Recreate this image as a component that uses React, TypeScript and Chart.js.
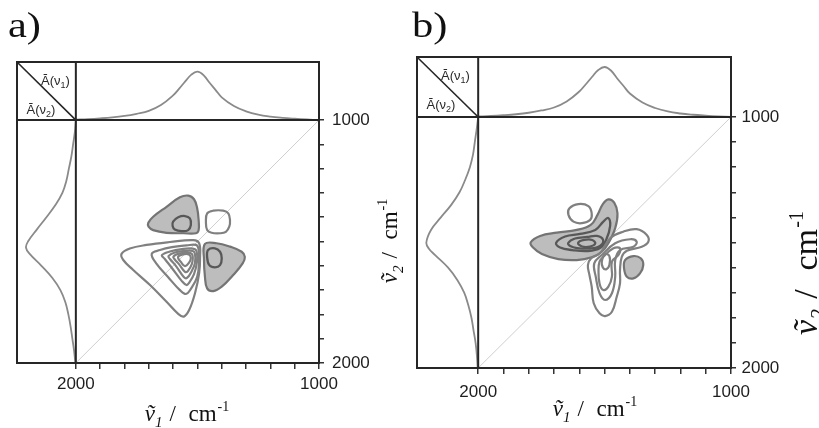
import React, { useEffect, useRef } from "react";
import { Chart, registerables } from "chart.js";

Chart.register(...registerables);

// ---------------- axes ----------------
const NU_TICKS = [2000, 1900, 1800, 1700, 1600, 1500, 1400, 1300, 1200, 1100, 1000];
const NU_LABELED = [2000, 1000];
const NU_LOW = 1000;
const NU_HIGH = 2000;
const NU1_STRIP_EDGE = 2242; // left edge of the left (ν2) spectrum strip, in ν1 units
const NU2_STRIP_EDGE = 761; // top edge of the top (ν1) spectrum strip, in ν2 units
const TOP_STRIP_ABS = 1.2; // absorbance value reached at the top edge of the top strip
const LEFT_STRIP_ABS = 1.18; // absorbance value reached at the left edge of the left strip

// ---------------- averaged spectra ----------------
const TOP_NU = [2000, 1950, 1900, 1850, 1800, 1750, 1700, 1650, 1600, 1575, 1550, 1525, 1500, 1475, 1450, 1425, 1400, 1350, 1300, 1250, 1200, 1150, 1100, 1050, 1000];
const TOP_ABS = [0.01, 0.02, 0.035, 0.055, 0.085, 0.13, 0.19, 0.31, 0.51, 0.65, 0.8, 0.94, 1.0, 0.93, 0.77, 0.62, 0.47, 0.29, 0.18, 0.11, 0.07, 0.045, 0.027, 0.012, 0.0];
const LEFT_NU = [1000, 1050, 1100, 1150, 1200, 1250, 1300, 1350, 1400, 1450, 1500, 1525, 1550, 1600, 1650, 1700, 1750, 1800, 1850, 1900, 1950, 2000];
const LEFT_ABS_A = [0.0, 0.02, 0.055, 0.09, 0.14, 0.19, 0.27, 0.41, 0.59, 0.78, 0.96, 1.0, 0.93, 0.69, 0.47, 0.31, 0.21, 0.15, 0.105, 0.07, 0.035, 0.01];
const LEFT_ABS_B = [0.0, 0.03, 0.065, 0.1, 0.16, 0.25, 0.36, 0.52, 0.72, 0.91, 1.0, 0.95, 0.83, 0.58, 0.4, 0.27, 0.19, 0.13, 0.09, 0.05, 0.025, 0.01];

// ---------------- contour lines, [ν1, ν2] ----------------
type Pt = [number, number];
// panel a
const A_NEG_1: Pt[] = [[1702, 1423], [1682, 1398], [1627, 1357], [1572, 1318], [1538, 1311], [1514, 1326], [1501, 1363], [1495, 1412], [1495, 1453], [1506, 1466], [1558, 1466], [1627, 1464], [1682, 1453], [1701, 1439]];
const A_NEG_1_IN: Pt[] = [[1600, 1418], [1579, 1400], [1551, 1395], [1531, 1405], [1527, 1432], [1538, 1453], [1565, 1457], [1593, 1450], [1602, 1436]];
const A_NEG_2: Pt[] = [[1469, 1510], [1421, 1507], [1366, 1521], [1318, 1542], [1305, 1563], [1314, 1590], [1353, 1638], [1400, 1686], [1435, 1704], [1460, 1693], [1469, 1645], [1473, 1576]];
const A_NEG_2_IN: Pt[] = [[1456, 1535], [1428, 1528], [1407, 1542], [1400, 1569], [1407, 1597], [1428, 1606], [1451, 1597], [1460, 1565]];
const A_POS_SMALL: Pt[] = [[1460, 1384], [1435, 1373], [1394, 1373], [1373, 1384], [1366, 1412], [1369, 1439], [1383, 1460], [1407, 1466], [1442, 1464], [1460, 1453], [1465, 1418]];
const A_POS_1: Pt[] = [[1812, 1551], [1778, 1529], [1709, 1514], [1613, 1502], [1517, 1494], [1493, 1507], [1489, 1563], [1493, 1631], [1510, 1713], [1534, 1782], [1556, 1809], [1579, 1798], [1627, 1748], [1695, 1679], [1764, 1617], [1805, 1576]];
const A_POS_2: Pt[] = [[1688, 1551], [1654, 1535], [1605, 1523], [1544, 1516], [1506, 1514], [1496, 1529], [1493, 1576], [1501, 1645], [1527, 1695], [1547, 1716], [1572, 1700], [1621, 1646], [1667, 1593]];
const A_POS_3: Pt[] = [[1646, 1556], [1613, 1541], [1564, 1531], [1519, 1529], [1504, 1539], [1502, 1584], [1514, 1634], [1535, 1671], [1545, 1679], [1564, 1663], [1605, 1609], [1634, 1572]];
const A_POS_4: Pt[] = [[1619, 1560], [1593, 1545], [1551, 1539], [1519, 1539], [1510, 1551], [1510, 1588], [1523, 1621], [1543, 1650], [1556, 1646], [1588, 1601], [1613, 1572]];
const A_POS_5: Pt[] = [[1599, 1562], [1572, 1549], [1543, 1547], [1523, 1551], [1519, 1568], [1523, 1593], [1539, 1621], [1551, 1625], [1576, 1593], [1593, 1574]];
const A_POS_6: Pt[] = [[1580, 1564], [1560, 1553], [1535, 1553], [1527, 1568], [1535, 1588], [1551, 1601], [1568, 1584]];
// panel b
const B_NEG_1: Pt[] = [[1792, 1499], [1755, 1474], [1689, 1461], [1610, 1450], [1555, 1430], [1528, 1390], [1507, 1347], [1485, 1328], [1462, 1341], [1449, 1384], [1458, 1443], [1485, 1503], [1511, 1537], [1551, 1559], [1610, 1570], [1683, 1566], [1748, 1546], [1784, 1519]];
const B_NEG_1_IN_1: Pt[] = [[1692, 1502], [1656, 1476], [1597, 1466], [1537, 1450], [1506, 1418], [1486, 1402], [1478, 1434], [1494, 1490], [1518, 1522], [1565, 1534], [1628, 1530], [1676, 1520]];
const B_NEG_1_IN_2: Pt[] = [[1644, 1502], [1617, 1484], [1569, 1478], [1530, 1474], [1506, 1490], [1518, 1514], [1557, 1524], [1609, 1522], [1636, 1514]];
const B_NEG_1_IN_3: Pt[] = [[1605, 1502], [1581, 1490], [1549, 1490], [1537, 1504], [1557, 1516], [1589, 1516]];
const B_NEG_2: Pt[] = [[1419, 1570], [1386, 1554], [1357, 1563], [1347, 1590], [1360, 1623], [1386, 1643], [1412, 1636], [1423, 1603]];
const B_POS_SMALL: Pt[] = [[1639, 1364], [1604, 1347], [1564, 1355], [1551, 1384], [1557, 1410], [1590, 1423], [1623, 1417], [1643, 1390]];
const B_POS_1: Pt[] = [[1518, 1543], [1478, 1483], [1426, 1457], [1373, 1447], [1333, 1470], [1327, 1497], [1353, 1517], [1412, 1533], [1432, 1557], [1439, 1610], [1439, 1663], [1452, 1716], [1471, 1776], [1498, 1793], [1520, 1782], [1543, 1742], [1551, 1676], [1560, 1629], [1566, 1590], [1553, 1563]];
const B_POS_2: Pt[] = [[1511, 1550], [1458, 1503], [1399, 1487], [1373, 1497], [1386, 1517], [1439, 1530], [1458, 1570], [1458, 1636], [1471, 1702], [1498, 1729], [1520, 1702], [1535, 1636], [1541, 1583]];
const B_POS_3: Pt[] = [[1505, 1557], [1465, 1523], [1439, 1523], [1445, 1550], [1471, 1576], [1471, 1636], [1485, 1676], [1505, 1689], [1520, 1663], [1524, 1610], [1520, 1576]];
const B_POS_4: Pt[] = [[1511, 1576], [1498, 1546], [1481, 1554], [1481, 1590], [1494, 1607], [1507, 1599]];

// ---------------- styling / layout ----------------
const SANS = "'Liberation Sans', Arial, Helvetica, sans-serif";
const SERIF = "'Liberation Serif', 'Times New Roman', 'DejaVu Serif', serif";

interface PanelCfg {
  letter: string;
  left: number;
  width: number;
  height: number;
  padLeft: number;
  padTop: number;
  xAxisH: number;
  yAxisW: number;
  xTickPad: number;
  yTickPad: number;
  leftAbs: number[];
  neg: Pt[][];
  negInner: Pt[][];
  pos: Pt[][];
  letterX: number;
  letterBase: number;
  bottomCx: number;
  bottomBase: number;
  bottomSize: number;
  rightBase: number;
  rightCy: number;
  rightSize: number;
}

const PANEL_A: PanelCfg = {
  letter: "a)", left: 0, width: 410, height: 428,
  padLeft: 17, padTop: 62, xAxisH: 65, yAxisW: 91, xTickPad: 5.5, yTickPad: 8,
  leftAbs: LEFT_ABS_A,
  neg: [A_NEG_1, A_NEG_2], negInner: [A_NEG_1_IN, A_NEG_2_IN],
  pos: [A_POS_SMALL, A_POS_1, A_POS_2, A_POS_3, A_POS_4, A_POS_5, A_POS_6],
  letterX: 8, letterBase: 37,
  bottomCx: 187, bottomBase: 421, bottomSize: 23,
  rightBase: 397, rightCy: 241, rightSize: 23,
};

const PANEL_B: PanelCfg = {
  letter: "b)", left: 410, width: 409, height: 428,
  padLeft: 7, padTop: 57, xAxisH: 60, yAxisW: 88, xTickPad: 8.5, yTickPad: 5.5,
  leftAbs: LEFT_ABS_B,
  neg: [B_NEG_1, B_NEG_2], negInner: [B_NEG_1_IN_1, B_NEG_1_IN_2, B_NEG_1_IN_3],
  pos: [B_POS_SMALL, B_POS_1, B_POS_2, B_POS_3, B_POS_4],
  letterX: 2, letterBase: 37,
  bottomCx: 185, bottomBase: 416, bottomSize: 23,
  rightBase: 407, rightCy: 273, rightSize: 34,
};

type Part = { text: string; font: string; dy?: number; gap?: number };

function drawParts(ctx: CanvasRenderingContext2D, parts: Part[], x: number, y: number, center: boolean) {
  let total = 0;
  for (const p of parts) {
    ctx.font = p.font;
    total += (p.gap || 0) + ctx.measureText(p.text).width;
  }
  let cx = center ? x - total / 2 : x;
  for (const p of parts) {
    cx += p.gap || 0;
    ctx.font = p.font;
    ctx.fillText(p.text, cx, y + (p.dy || 0));
    cx += ctx.measureText(p.text).width;
  }
}

function titleParts(sub: string, s: number): Part[] {
  return [
    { text: "ṽ", font: `italic ${s}px ${SERIF}` },
    { text: sub, font: `italic ${Math.round(s * 0.64)}px ${SERIF}`, dy: s * 0.24 },
    { text: "/", font: `${s}px ${SERIF}`, gap: s * 0.3 },
    { text: "cm", font: `${s}px ${SERIF}`, gap: s * 0.55 },
    { text: "-1", font: `${Math.round(s * 0.6)}px ${SERIF}`, dy: -s * 0.42, gap: s * 0.04 },
  ];
}

function cornerParts(sub: string): Part[] {
  return [
    { text: "Ā(ν", font: `13px ${SANS}` },
    { text: sub, font: `9px ${SANS}`, dy: 3 },
    { text: ")", font: `13px ${SANS}` },
  ];
}

function makePlugin(cfg: PanelCfg) {
  return {
    id: "decor",
    afterDatasetUpdate(chart: any, args: any) {
      const ds = chart.data.datasets[args.index];
      if (ds && ds.closed && args.meta && args.meta.dataset) {
        args.meta.dataset._loop = true;
        args.meta.dataset._fullLoop = true;
      }
    },
    afterDraw(chart: any) {
      const { ctx, scales } = chart;
      const xs = scales.x;
      const ys = scales.y;
      const x0 = xs.getPixelForValue(NU_HIGH);
      const xr = xs.getPixelForValue(NU_LOW);
      const xe = xs.getPixelForValue(NU1_STRIP_EDGE);
      const y0 = ys.getPixelForValue(NU_LOW);
      const yb = ys.getPixelForValue(NU_HIGH);
      const ye = ys.getPixelForValue(NU2_STRIP_EDGE);
      ctx.save();
      ctx.strokeStyle = "#262626";
      ctx.lineWidth = 2;
      ctx.beginPath();
      ctx.rect(xe, ye, xr - xe, yb - ye);
      ctx.moveTo(xe, y0);
      ctx.lineTo(xr, y0);
      ctx.moveTo(x0, ye);
      ctx.lineTo(x0, yb);
      ctx.stroke();
      ctx.lineWidth = 1.6;
      ctx.beginPath();
      ctx.moveTo(xe, ye);
      ctx.lineTo(x0, y0);
      ctx.stroke();

      ctx.fillStyle = "#2a2a2a";
      ctx.textBaseline = "alphabetic";
      ctx.textAlign = "left";
      drawParts(ctx, cornerParts("1"), xe + 24, ye + 22.5, false);
      drawParts(ctx, cornerParts("2"), xe + 9.5, ye + 51.5, false);

      ctx.fillStyle = "#111";
      ctx.save();
      ctx.translate(cfg.letterX, cfg.letterBase);
      ctx.scale(1.18, 1);
      ctx.font = `36px ${SERIF}`;
      ctx.fillText(cfg.letter, 0, 0);
      ctx.restore();

      drawParts(ctx, titleParts("1", cfg.bottomSize), cfg.bottomCx, cfg.bottomBase, true);

      ctx.save();
      ctx.translate(cfg.rightBase, cfg.rightCy);
      ctx.rotate(-Math.PI / 2);
      drawParts(ctx, titleParts("2", cfg.rightSize), 0, 0, true);
      ctx.restore();
      ctx.restore();
    },
  };
}

function buildConfig(cfg: PanelCfg): any {
  const fTop = (NU_HIGH - NU_LOW) / (NU_HIGH - NU2_STRIP_EDGE);
  const yAMin = (-TOP_STRIP_ABS * fTop) / (1 - fTop);
  const g = (NU1_STRIP_EDGE - NU_HIGH) / (NU1_STRIP_EDGE - NU_LOW);
  const xAMin = LEFT_STRIP_ABS - LEFT_STRIP_ABS / g;
  const toXY = (pts: Pt[]) => pts.map(([x, y]) => ({ x, y }));
  const base = { showLine: true, pointRadius: 0, pointHoverRadius: 0, fill: false };

  const datasets: any[] = [
    { ...base, data: [{ x: NU_HIGH, y: NU_HIGH }, { x: NU_LOW, y: NU_LOW }], borderColor: "#cfcfcf", borderWidth: 1, order: 10 },
    ...cfg.neg.map((p) => ({ ...base, data: toXY(p), closed: true, tension: 0.4, fill: "shape", backgroundColor: "#bdbdbd", borderColor: "#747474", borderWidth: 2.2, order: 8 })),
    ...cfg.negInner.map((p) => ({ ...base, data: toXY(p), closed: true, tension: 0.4, borderColor: "#585858", borderWidth: 2.3, order: 7 })),
    ...cfg.pos.map((p) => ({ ...base, data: toXY(p), closed: true, tension: 0.4, borderColor: "#808080", borderWidth: 2.2, order: 6 })),
    { ...base, data: TOP_NU.map((x, i) => ({ x, y: TOP_ABS[i] })), yAxisID: "yA", tension: 0.4, borderColor: "#8a8a8a", borderWidth: 1.8, order: 2 },
    { ...base, data: LEFT_NU.map((y, i) => ({ x: cfg.leftAbs[i], y })), xAxisID: "xA", tension: 0.4, borderColor: "#8a8a8a", borderWidth: 1.8, order: 2 },
  ];

  const tickCb = (v: any) => (NU_LABELED.includes(Number(v)) ? String(v) : "");

  return {
    type: "scatter",
    data: { datasets },
    plugins: [makePlugin(cfg)],
    options: {
      responsive: false,
      animation: false,
      devicePixelRatio: 1,
      events: [],
      layout: { padding: { left: cfg.padLeft, top: cfg.padTop, right: 0, bottom: 0 } },
      plugins: { legend: { display: false }, tooltip: { enabled: false }, title: { display: false } },
      scales: {
        x: {
          type: "linear",
          position: "bottom",
          min: NU_LOW,
          max: NU1_STRIP_EDGE,
          reverse: true,
          afterBuildTicks: (s: any) => {
            s.ticks = NU_TICKS.map((v) => ({ value: v }));
          },
          afterFit: (s: any) => {
            s.height = cfg.xAxisH;
          },
          border: { display: false },
          grid: { drawOnChartArea: false, drawTicks: true, tickLength: 6, color: "#333", lineWidth: 1.5 },
          ticks: { autoSkip: false, maxRotation: 0, minRotation: 0, padding: cfg.xTickPad, color: "#1e1e1e", font: { family: SANS, size: 17 }, callback: tickCb },
        },
        y: {
          type: "linear",
          position: "right",
          min: NU2_STRIP_EDGE,
          max: NU_HIGH,
          reverse: true,
          afterBuildTicks: (s: any) => {
            s.ticks = NU_TICKS.map((v) => ({ value: v }));
          },
          afterFit: (s: any) => {
            s.width = cfg.yAxisW;
          },
          border: { display: false },
          grid: { drawOnChartArea: false, drawTicks: true, tickLength: 5, color: "#333", lineWidth: 1.5 },
          ticks: { autoSkip: false, padding: cfg.yTickPad, color: "#1e1e1e", font: { family: SANS, size: 17 }, callback: tickCb },
        },
        yA: { type: "linear", display: false, min: yAMin, max: TOP_STRIP_ABS },
        xA: { type: "linear", display: false, reverse: true, min: xAMin, max: LEFT_STRIP_ABS },
      },
    },
  };
}

function Panel({ cfg }: { cfg: PanelCfg }) {
  const ref = useRef<HTMLCanvasElement | null>(null);
  useEffect(() => {
    if (!ref.current) return;
    const chart = new Chart(ref.current, buildConfig(cfg));
    return () => chart.destroy();
  }, [cfg]);
  return (
    <canvas
      ref={ref}
      width={cfg.width}
      height={cfg.height}
      style={{ position: "absolute", left: cfg.left, top: 0, width: cfg.width, height: cfg.height }}
    />
  );
}

export default function App() {
  return (
    <div style={{ position: "absolute", left: 0, top: 0, width: 819, height: 428, background: "#fff", overflow: "hidden" }}>
      <Panel cfg={PANEL_A} />
      <Panel cfg={PANEL_B} />
    </div>
  );
}
